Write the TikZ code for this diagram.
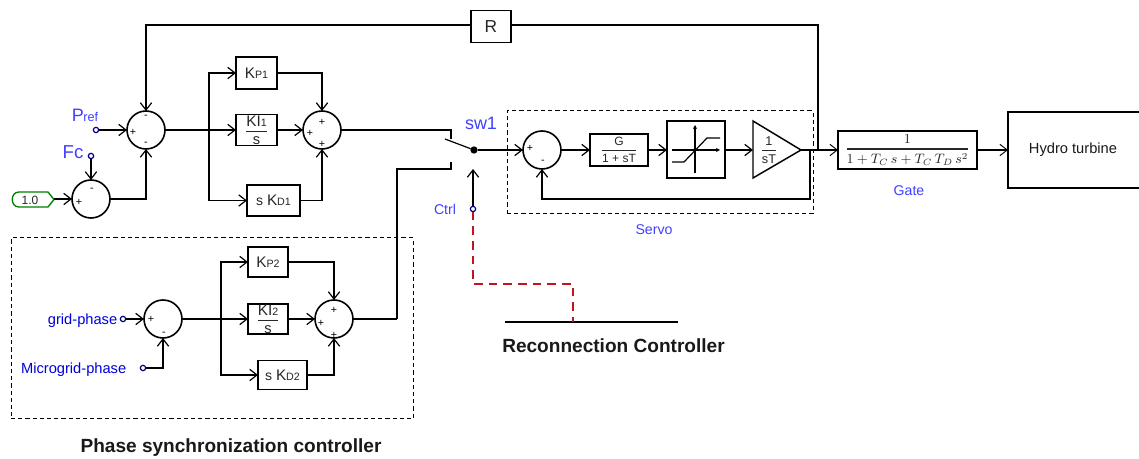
\documentclass[tikz,border=0pt]{standalone}
\usepackage{amsmath}
\usepackage{fontspec}
\setmainfont{Liberation Sans}
\usetikzlibrary{arrows.meta}
\definecolor{lblue}{RGB}{64,64,255}
\definecolor{dblue}{RGB}{0,0,220}
\definecolor{navy}{RGB}{0,0,128}
\definecolor{dred}{RGB}{192,20,30}
\definecolor{tagreen}{RGB}{0,128,0}
\newcommand{\bigk}[2]{{\fontsize{11.5}{12}\selectfont #1}{\fontsize{8}{9}\selectfont #2}}
\newcommand{\frc}[2]{$\genfrac{}{}{0.9pt}{0}{\hbox{#1}}{\hbox{#2}}$}
\tikzset{
 wire/.style={line width=1.1pt,draw=black},
 arr/.style={wire,-{Straight Barb[length=5.5pt,width=8.5pt,line width=0.9pt]}},
 thinarr/.style={line width=0.8pt,draw=black,-{Straight Barb[length=5.5pt,width=8.5pt,line width=0.7pt]}},
 sumj/.style={circle,draw=black,line width=1.2pt,minimum size=28.5pt,inner sep=0pt,outer sep=0pt},
 blk/.style={rectangle,draw=black,line width=1.1pt,inner sep=0pt,outer sep=0pt,text=black!85},
 sz/.style 2 args={minimum width=#1*0.75pt,minimum height=#2*0.75pt},
 term/.style={circle,draw=navy,fill=white,line width=0.9pt,minimum size=4pt,inner sep=0pt,outer sep=0pt},
 sgn/.style={inner sep=0pt,font=\fontsize{8}{8}\selectfont,text=black},
 dbox/.style={draw=black,line width=0.75pt,dash pattern=on 3.2pt off 2.2pt},
 lab/.style={inner sep=0pt,text=lblue,font=\fontsize{10.6}{11}\selectfont},
 lab2/.style={inner sep=0pt,text=dblue,font=\fontsize{11}{12}\selectfont},
 big/.style={inner sep=0pt,text=lblue,font=\fontsize{13.5}{14}\selectfont},
 hd/.style={inner sep=0pt,font=\bfseries\fontsize{14.3}{15}\selectfont,text=black!90},
}
\begin{document}
\begin{tikzpicture}[x=0.75pt,y=-0.75pt]
\useasboundingbox (0,0) rectangle (1139,459);
% dashed frames
\node[dbox,sz={306}{103},inner sep=0pt] (servobox) at (660,162.5) {};
\node[dbox,sz={402}{181},inner sep=0pt] (phasebox) at (212,328.5) {};
% top PID
\node[sumj] (s1) at (146,130) {};
\node[sumj] (s2) at (91,199) {};
\node[sumj] (s3) at (322,130) {};
\node[blk,sz={41}{32}] (kp1) at (256.5,73) {\bigk{K}{P1}};
\node[blk,sz={41}{31}] (ki1) at (256.5,130) {\frc{\bigk{KI}{1}}{\fontsize{11}{12}\selectfont s}};
\node[blk,sz={53}{31}] (kd1) at (273.5,200.5) {\fontsize{10.5}{12}\selectfont s \bigk{K}{D1}};
\node[blk,sz={40}{32},font=\fontsize{13}{14}\selectfont] (r) at (491,26.7) {R};
\node[term] (pref) at (96,130) {};
\node[term] (fc) at (91,156) {};
\node[big,anchor=center] (preflab) at (85,115) {P\kern-0.3pt{\fontsize{9.5}{10}\selectfont ref}};
\node[big,font=\fontsize{14}{15}\selectfont] (fclab) at (73,152) {Fc};
\draw[draw=tagreen,line width=1pt,fill=white] (19,192) -- (48,192) -- (54,199.5) -- (48,207) -- (19,207) .. controls (10,207) and (10,192) .. (19,192);
\coordinate (tagtip) at (54,199);
\node[inner sep=0pt,font=\fontsize{9}{10}\selectfont,text=black!85] (tag) at (30,200) {1.0};
\coordinate (b1) at (209,130);
\coordinate (fbk) at (818,150);
\coordinate (rl) at (471,25);
\coordinate (rr) at (511,25);
\draw[arr] (pref) -- (s1.west);
\draw[arr] (fc) -- (s2.north);
\draw[arr] (tagtip) -- (s2.west);
\draw[arr] (s2.east) -| (s1.south);
\draw[arr] (s1.east) -- (ki1.west);
\draw[arr] (b1) |- (kp1.west);
\draw[arr] (b1) |- (kd1.west);
\draw[arr] (ki1.east) -- (s3.west);
\draw[arr] (kp1.east) -| (s3.north);
\draw[arr] (kd1.east) -| (s3.south);
\draw[arr] (rl) -| (s1.north);
\draw[wire] (fbk) |- (rr);
\node[sgn] (p1a) at (133,132.5) {+};
\node[sgn] (m1a) at (146,116.5) {-};
\node[sgn] (m1b) at (146,143.5) {-};
\node[sgn] (p2a) at (79,202) {+};
\node[sgn] (m2a) at (92,190) {-};
\node[sgn] (p3a) at (322,122) {+};
\node[sgn] (p3b) at (310,133) {+};
\node[sgn] (p3c) at (322,144) {+};
% switch
\node[circle,fill=black,minimum size=5.5pt,inner sep=0pt,outer sep=0pt] (swd) at (474,150) {};
\coordinate (t1) at (451,130);
\coordinate (t1b) at (451,139);
\coordinate (t2) at (451,169);
\coordinate (t2b) at (451,162);
\coordinate (sa) at (445,139);
\draw[wire] (s3.east) -- (t1) -- (t1b);
\draw[wire] (t2b) -- (t2) -- (397,169) -- (397,319);
\draw[wire,line width=0.9pt] (sa) -- (swd);
\node[big] (swl) at (481,123) {sw1};
\node[term] (ctrl) at (473,209) {};
\coordinate (ctop) at (473,169);
\node[lab] (ctrll) at (445,209) {Ctrl};
\draw[arr] (ctrl) -- (ctop);
% reconnection
\coordinate (rc1) at (505,322);
\coordinate (rc2) at (678,322);
\coordinate (rc3) at (573,322);
\coordinate (rd1) at (473,284);
\coordinate (rd2) at (573,284);
\draw[line width=1.1pt,draw=black] (rc1) -- (rc2);
\draw[draw=dred,line width=1pt,dash pattern=on 6.5pt off 4.5pt] (ctrl) -- (rd1) -- (rd2) -- (rc3);
\node[hd] (rcl) at (613.5,346) {Reconnection Controller};
% servo
\node[sumj] (s4) at (542,150) {};
\node[blk,sz={58}{32}] (g) at (619,150) {\fontsize{9}{10}\selectfont\frc{G}{1 + sT}};
\node[blk,sz={58}{57}] (sat) at (696,149.5) {};
\draw[line width=0.9pt,-{Stealth[length=3pt,width=3pt]}] (672,150) -- (720,150);
\draw[line width=0.9pt,-{Stealth[length=3pt,width=3pt]}] (695,173) -- (695,125);
\draw[line width=0.9pt] (672,162) -- (684,162) -- (707,138) -- (720,138);
\coordinate (ig) at (753,150);
\coordinate (tri1) at (753,121);
\coordinate (tri2) at (753,178);
\coordinate (tri3) at (801,150);
\draw[line width=1.1pt,line join=miter] (tri1) -- (tri3) -- (tri2) -- cycle;
\node[inner sep=0pt,font=\fontsize{9.5}{10}\selectfont,text=black!85] (igt) at (769,150) {\frc{1}{sT}};
\coordinate (tap) at (810,150);
\node[blk,sz={139}{38}] (gate) at (907.5,150) {\scalebox{1.14}{\fontsize{9}{10}\selectfont$\genfrac{}{}{1pt}{0}{1}{1+T_C\,s+T_C\,T_D\,s^2}$}};
\draw[line width=1.1pt] (1145,112) -- (1008,112) -- (1008,188) -- (1145,188);
\coordinate (turb) at (1008,150);
\node[inner sep=0pt,font=\fontsize{11}{12}\selectfont,text=black!90] (turbl) at (1073,150) {Hydro turbine};
\draw[arr] (swd) -- (s4.west);
\draw[arr] (s4.east) -- (g.west);
\draw[arr] (g.east) -- (sat.west |- g.east);
\draw[arr] (sat.east |- g.east) -- (ig);
\draw[wire] (tri3) -- (tap);
\draw[thinarr] (tap) -- (gate.west);
\draw[thinarr] (gate.east) -- (turb);
\draw[arr] (tap) |- (542,199) -- (s4.south);
\node[sgn] (p4a) at (530,148) {+};
\node[sgn] (m4a) at (543,162) {-};
\node[lab] (servol) at (654,230) {Servo};
\node[lab] (gatel) at (909,191) {Gate};
% phase PID
\node[sumj] (s5) at (163,319) {};
\node[sumj] (s6) at (334,319) {};
\node[blk,sz={40}{30}] (kp2) at (268,262) {\bigk{K}{P2}};
\node[blk,sz={40}{30}] (ki2) at (268,319) {\frc{\bigk{KI}{2}}{\fontsize{11}{12}\selectfont s}};
\node[blk,sz={49}{29}] (kd2) at (282.5,375) {\fontsize{10.5}{12}\selectfont s \bigk{K}{D2}};
\node[term] (grid) at (123,319) {};
\node[term] (mg) at (143,368) {};
\node[lab2,anchor=east] (gridl) at (117.5,320.5) {grid-phase};
\node[lab2,anchor=east] (mgl) at (126.5,370) {Microgrid-phase};
\coordinate (b2) at (221,319);
\draw[arr] (grid) -- (s5.west);
\draw[arr] (mg) -| (s5.south);
\draw[arr] (s5.east) -- (ki2.west);
\draw[arr] (b2) |- (kp2.west);
\draw[arr] (b2) |- (kd2.west);
\draw[arr] (ki2.east) -- (s6.west);
\draw[arr] (kp2.east) -| (s6.north);
\draw[arr] (kd2.east) -| (s6.south);
\draw[wire] (s6.east) -- (397,319);
\node[sgn] (p5a) at (151,319) {+};
\node[sgn] (m5a) at (164,334) {-};
\node[sgn] (p6a) at (334,310) {+};
\node[sgn] (p6b) at (321,323) {+};
\node[sgn] (p6c) at (334,335) {+};
\node[hd] (phl) at (231,448) {Phase synchronization controller};
\end{tikzpicture}
\end{document}
